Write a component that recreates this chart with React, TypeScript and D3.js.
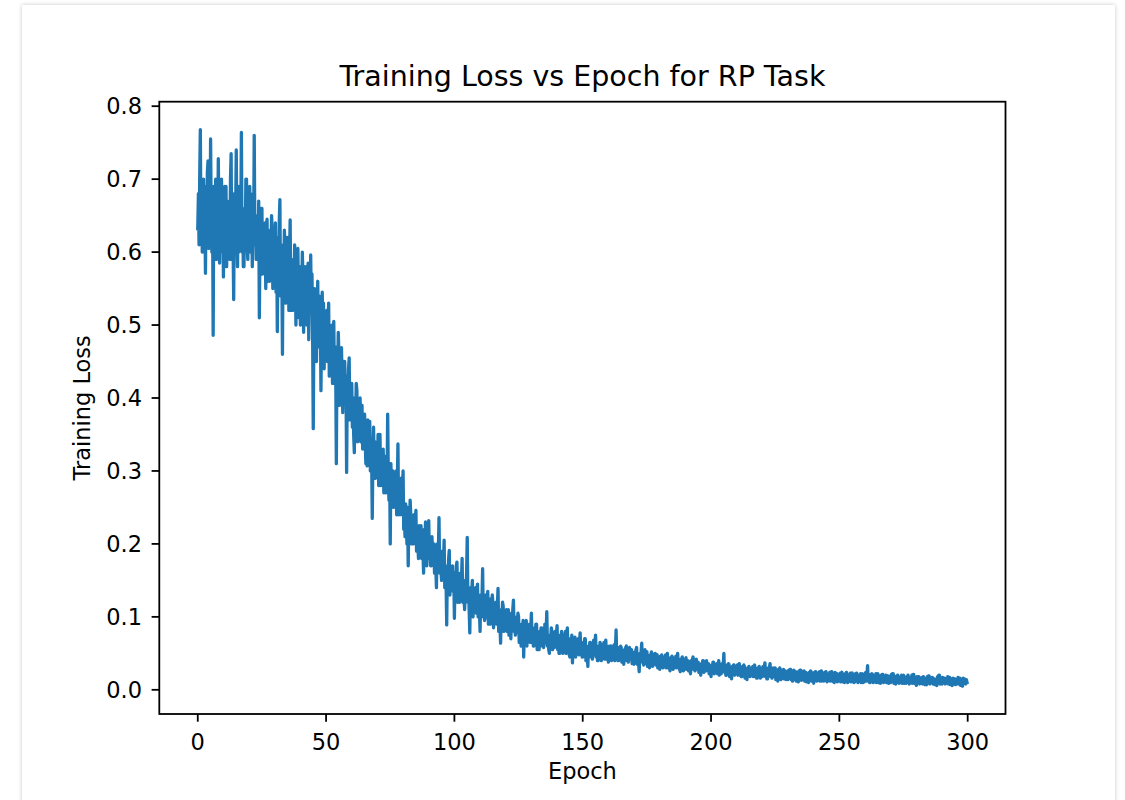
import React from "react";
import * as d3 from "d3";

// Training loss logged four times per epoch (every quarter epoch, 0..299.75)
const lossValues: number[] = [
  0.632, 0.680, 0.610, 0.700, 0.768, 0.620, 0.690, 0.600, 0.640, 0.700, 0.615, 0.665, 0.571, 0.690, 0.630, 0.710, 0.725, 0.605, 0.670, 0.620,
  0.755, 0.640, 0.600, 0.680, 0.486, 0.690, 0.620, 0.660, 0.700, 0.590, 0.650, 0.610, 0.728, 0.640, 0.585, 0.680, 0.610, 0.700, 0.600, 0.660,
  0.566, 0.650, 0.690, 0.600, 0.690, 0.580, 0.660, 0.620, 0.600, 0.670, 0.590, 0.700, 0.735, 0.590, 0.640, 0.610, 0.535, 0.680, 0.600, 0.650,
  0.740, 0.620, 0.580, 0.690, 0.600, 0.690, 0.620, 0.640, 0.764, 0.600, 0.660, 0.580, 0.580, 0.650, 0.610, 0.700, 0.700, 0.610, 0.590, 0.670,
  0.620, 0.690, 0.600, 0.640, 0.655, 0.580, 0.680, 0.610, 0.760, 0.620, 0.650, 0.590, 0.590, 0.650, 0.600, 0.670, 0.510, 0.620, 0.580, 0.660,
  0.660, 0.570, 0.620, 0.590, 0.600, 0.640, 0.550, 0.630, 0.645, 0.560, 0.610, 0.580, 0.560, 0.630, 0.590, 0.650, 0.630, 0.550, 0.600, 0.560,
  0.590, 0.640, 0.545, 0.620, 0.491, 0.600, 0.570, 0.640, 0.672, 0.540, 0.610, 0.580, 0.460, 0.610, 0.560, 0.630, 0.600, 0.530, 0.620, 0.570,
  0.560, 0.620, 0.520, 0.590, 0.644, 0.520, 0.580, 0.540, 0.520, 0.590, 0.550, 0.610, 0.580, 0.500, 0.570, 0.530, 0.605, 0.540, 0.510, 0.580,
  0.500, 0.570, 0.530, 0.600, 0.560, 0.490, 0.580, 0.520, 0.530, 0.580, 0.500, 0.560, 0.585, 0.480, 0.550, 0.520, 0.596, 0.520, 0.570, 0.490,
  0.358, 0.500, 0.550, 0.480, 0.540, 0.450, 0.520, 0.560, 0.470, 0.540, 0.490, 0.520, 0.410, 0.500, 0.545, 0.470, 0.530, 0.440, 0.510, 0.480,
  0.470, 0.520, 0.450, 0.500, 0.530, 0.430, 0.490, 0.460, 0.440, 0.500, 0.420, 0.480, 0.505, 0.420, 0.470, 0.440, 0.310, 0.470, 0.430, 0.490,
  0.460, 0.390, 0.440, 0.410, 0.469, 0.420, 0.380, 0.450, 0.400, 0.450, 0.410, 0.430, 0.298, 0.420, 0.390, 0.440, 0.455, 0.370, 0.420, 0.400,
  0.420, 0.360, 0.400, 0.350, 0.325, 0.400, 0.370, 0.420, 0.410, 0.340, 0.390, 0.360, 0.350, 0.400, 0.340, 0.380, 0.390, 0.330, 0.370, 0.350,
  0.378, 0.340, 0.310, 0.360, 0.307, 0.370, 0.330, 0.350, 0.368, 0.300, 0.340, 0.320, 0.235, 0.330, 0.360, 0.300, 0.340, 0.290, 0.330, 0.310,
  0.300, 0.350, 0.280, 0.320, 0.350, 0.280, 0.310, 0.290, 0.280, 0.330, 0.270, 0.310, 0.320, 0.270, 0.300, 0.280, 0.378, 0.290, 0.260, 0.310,
  0.200, 0.310, 0.270, 0.290, 0.300, 0.250, 0.280, 0.260, 0.260, 0.300, 0.240, 0.280, 0.337, 0.240, 0.270, 0.250, 0.240, 0.290, 0.250, 0.270,
  0.300, 0.220, 0.250, 0.210, 0.255, 0.230, 0.200, 0.250, 0.170, 0.240, 0.220, 0.260, 0.240, 0.200, 0.230, 0.210, 0.200, 0.240, 0.210, 0.230,
  0.246, 0.190, 0.220, 0.200, 0.180, 0.225, 0.195, 0.215, 0.225, 0.180, 0.210, 0.190, 0.160, 0.220, 0.200, 0.230, 0.215, 0.170, 0.200, 0.185,
  0.232, 0.180, 0.200, 0.170, 0.170, 0.210, 0.185, 0.200, 0.200, 0.160, 0.190, 0.170, 0.140, 0.200, 0.175, 0.190, 0.236, 0.160, 0.180, 0.165,
  0.150, 0.190, 0.160, 0.175, 0.205, 0.140, 0.170, 0.150, 0.089, 0.170, 0.150, 0.180, 0.191, 0.130, 0.160, 0.145, 0.140, 0.170, 0.135, 0.160,
  0.098, 0.160, 0.140, 0.170, 0.175, 0.120, 0.150, 0.130, 0.120, 0.160, 0.135, 0.150, 0.180, 0.120, 0.145, 0.125, 0.110, 0.150, 0.130, 0.160,
  0.209, 0.120, 0.140, 0.110, 0.078, 0.140, 0.120, 0.135, 0.150, 0.100, 0.130, 0.115, 0.110, 0.140, 0.105, 0.130, 0.145, 0.100, 0.125, 0.110,
  0.080, 0.130, 0.110, 0.125, 0.166, 0.100, 0.120, 0.095, 0.100, 0.130, 0.105, 0.120, 0.135, 0.090, 0.115, 0.100, 0.090, 0.125, 0.100, 0.130,
  0.120, 0.085, 0.110, 0.095, 0.100, 0.120, 0.090, 0.115, 0.139, 0.080, 0.105, 0.090, 0.064, 0.110, 0.095, 0.120, 0.115, 0.080, 0.100, 0.090,
  0.085, 0.110, 0.080, 0.100, 0.110, 0.075, 0.095, 0.085, 0.070, 0.105, 0.090, 0.110, 0.123, 0.080, 0.095, 0.075, 0.080, 0.100, 0.085, 0.105,
  0.100, 0.065, 0.085, 0.075, 0.060, 0.090, 0.070, 0.095, 0.045, 0.085, 0.075, 0.090, 0.095, 0.060, 0.080, 0.070, 0.070, 0.090, 0.065, 0.085,
  0.105, 0.065, 0.080, 0.060, 0.060, 0.085, 0.070, 0.090, 0.090, 0.055, 0.075, 0.065, 0.055, 0.080, 0.060, 0.085, 0.085, 0.060, 0.075, 0.058,
  0.065, 0.090, 0.070, 0.080, 0.107, 0.060, 0.075, 0.055, 0.050, 0.075, 0.065, 0.085, 0.080, 0.055, 0.070, 0.060, 0.058, 0.080, 0.065, 0.075,
  0.088, 0.055, 0.070, 0.050, 0.050, 0.075, 0.060, 0.080, 0.075, 0.050, 0.065, 0.055, 0.060, 0.080, 0.050, 0.070, 0.085, 0.055, 0.065, 0.048,
  0.045, 0.070, 0.060, 0.075, 0.037, 0.060, 0.050, 0.070, 0.072, 0.045, 0.065, 0.055, 0.050, 0.070, 0.048, 0.065, 0.078, 0.050, 0.060, 0.045,
  0.045, 0.065, 0.055, 0.070, 0.070, 0.040, 0.060, 0.050, 0.032, 0.060, 0.050, 0.065, 0.065, 0.045, 0.058, 0.042, 0.048, 0.068, 0.050, 0.062,
  0.075, 0.045, 0.060, 0.040, 0.040, 0.060, 0.048, 0.065, 0.062, 0.040, 0.055, 0.045, 0.050, 0.065, 0.042, 0.060, 0.068, 0.042, 0.055, 0.048,
  0.038, 0.060, 0.045, 0.058, 0.060, 0.040, 0.052, 0.044, 0.045, 0.062, 0.040, 0.055, 0.082, 0.045, 0.055, 0.040, 0.040, 0.058, 0.048, 0.060,
  0.058, 0.038, 0.050, 0.042, 0.035, 0.055, 0.045, 0.058, 0.060, 0.040, 0.052, 0.038, 0.042, 0.058, 0.044, 0.055, 0.055, 0.036, 0.050, 0.040,
  0.035, 0.052, 0.040, 0.055, 0.058, 0.035, 0.048, 0.038, 0.025, 0.050, 0.040, 0.052, 0.064, 0.038, 0.048, 0.034, 0.040, 0.055, 0.036, 0.050,
  0.052, 0.032, 0.045, 0.038, 0.030, 0.048, 0.040, 0.052, 0.050, 0.032, 0.044, 0.036, 0.036, 0.050, 0.034, 0.046, 0.048, 0.030, 0.042, 0.035,
  0.028, 0.046, 0.035, 0.048, 0.045, 0.030, 0.040, 0.032, 0.035, 0.048, 0.030, 0.044, 0.050, 0.030, 0.040, 0.034, 0.026, 0.044, 0.036, 0.046,
  0.044, 0.028, 0.038, 0.032, 0.032, 0.046, 0.030, 0.042, 0.050, 0.030, 0.040, 0.028, 0.025, 0.042, 0.034, 0.045, 0.042, 0.026, 0.036, 0.030,
  0.030, 0.044, 0.028, 0.040, 0.040, 0.026, 0.036, 0.030, 0.022, 0.040, 0.032, 0.042, 0.045, 0.028, 0.036, 0.026, 0.028, 0.042, 0.030, 0.038,
  0.038, 0.024, 0.034, 0.028, 0.020, 0.036, 0.030, 0.040, 0.040, 0.024, 0.034, 0.026, 0.026, 0.040, 0.028, 0.036, 0.036, 0.022, 0.032, 0.026,
  0.018, 0.034, 0.026, 0.038, 0.038, 0.022, 0.032, 0.024, 0.024, 0.036, 0.022, 0.034, 0.040, 0.020, 0.030, 0.024, 0.022, 0.036, 0.026, 0.034,
  0.050, 0.024, 0.032, 0.020, 0.020, 0.034, 0.026, 0.036, 0.035, 0.018, 0.030, 0.022, 0.015, 0.032, 0.024, 0.034, 0.034, 0.020, 0.030, 0.022,
  0.022, 0.034, 0.020, 0.032, 0.036, 0.020, 0.028, 0.018, 0.018, 0.032, 0.024, 0.034, 0.032, 0.016, 0.028, 0.020, 0.014, 0.030, 0.022, 0.032,
  0.030, 0.018, 0.026, 0.020, 0.020, 0.032, 0.018, 0.030, 0.034, 0.018, 0.026, 0.016, 0.016, 0.030, 0.022, 0.032, 0.030, 0.016, 0.026, 0.018,
  0.018, 0.032, 0.020, 0.030, 0.037, 0.018, 0.026, 0.015, 0.015, 0.030, 0.022, 0.031, 0.036, 0.018, 0.026, 0.016, 0.020, 0.030, 0.018, 0.028,
  0.030, 0.014, 0.024, 0.018, 0.012, 0.028, 0.020, 0.030, 0.028, 0.014, 0.024, 0.016, 0.018, 0.028, 0.015, 0.026, 0.026, 0.014, 0.022, 0.016,
  0.014, 0.027, 0.018, 0.028, 0.028, 0.014, 0.022, 0.012, 0.016, 0.027, 0.014, 0.025, 0.025, 0.012, 0.020, 0.015, 0.011, 0.026, 0.018, 0.027,
  0.027, 0.013, 0.022, 0.015, 0.015, 0.026, 0.012, 0.024, 0.024, 0.011, 0.020, 0.014, 0.010, 0.024, 0.016, 0.026, 0.025, 0.012, 0.020, 0.013,
  0.009, 0.024, 0.016, 0.025, 0.024, 0.012, 0.020, 0.013, 0.014, 0.025, 0.012, 0.022, 0.026, 0.012, 0.020, 0.014, 0.012, 0.024, 0.016, 0.025,
  0.022, 0.011, 0.018, 0.013, 0.015, 0.024, 0.012, 0.022, 0.025, 0.012, 0.019, 0.011, 0.010, 0.024, 0.016, 0.023, 0.022, 0.011, 0.018, 0.013,
  0.013, 0.023, 0.011, 0.021, 0.024, 0.011, 0.018, 0.012, 0.010, 0.022, 0.015, 0.024, 0.021, 0.010, 0.017, 0.012, 0.014, 0.023, 0.011, 0.021,
  0.023, 0.011, 0.018, 0.010, 0.011, 0.022, 0.014, 0.023, 0.020, 0.010, 0.016, 0.012, 0.012, 0.022, 0.010, 0.020, 0.022, 0.010, 0.017, 0.011,
  0.014, 0.024, 0.012, 0.021, 0.033, 0.012, 0.018, 0.010, 0.010, 0.021, 0.014, 0.022, 0.020, 0.010, 0.016, 0.011, 0.013, 0.022, 0.010, 0.020,
  0.022, 0.010, 0.017, 0.012, 0.009, 0.020, 0.014, 0.021, 0.021, 0.010, 0.016, 0.011, 0.012, 0.020, 0.010, 0.019, 0.019, 0.009, 0.015, 0.011,
  0.010, 0.021, 0.013, 0.022, 0.022, 0.009, 0.016, 0.010, 0.008, 0.019, 0.013, 0.020, 0.018, 0.009, 0.015, 0.010, 0.011, 0.020, 0.009, 0.019,
  0.020, 0.009, 0.015, 0.011, 0.009, 0.018, 0.012, 0.020, 0.017, 0.008, 0.014, 0.010, 0.012, 0.020, 0.009, 0.021, 0.021, 0.009, 0.015, 0.010,
  0.006, 0.018, 0.011, 0.018, 0.018, 0.008, 0.014, 0.009, 0.010, 0.017, 0.008, 0.018, 0.016, 0.007, 0.013, 0.009, 0.007, 0.018, 0.011, 0.019,
  0.019, 0.008, 0.014, 0.010, 0.010, 0.017, 0.008, 0.015, 0.015, 0.007, 0.012, 0.009, 0.006, 0.018, 0.010, 0.020, 0.020, 0.008, 0.014, 0.009,
  0.008, 0.017, 0.010, 0.016, 0.016, 0.008, 0.013, 0.009, 0.011, 0.018, 0.008, 0.017, 0.017, 0.007, 0.012, 0.009, 0.006, 0.016, 0.010, 0.015,
  0.015, 0.007, 0.013, 0.008, 0.009, 0.017, 0.008, 0.016, 0.016, 0.006, 0.012, 0.008, 0.005, 0.016, 0.009, 0.015, 0.013, 0.008, 0.014, 0.010,
];
const STEPS_PER_EPOCH = 4;
const epochs: number[] = lossValues.map((_, i) => i / STEPS_PER_EPOCH);

const xTicks: number[] = [0, 50, 100, 150, 200, 250, 300];
const yTicks: number[] = [0.0, 0.1, 0.2, 0.3, 0.4, 0.5, 0.6, 0.7, 0.8];

const titleText = "Training Loss vs Epoch for RP Task";
const xLabelText = "Epoch";
const yLabelText = "Training Loss";

const W = 1125;
const H = 800;
const FONT = "'DejaVu Sans', sans-serif";
const LINE_COLOR = "#1f77b4";

// axes box
const left = 159.3;
const right = 1005.5;
const top = 101.7;
const bottom = 714;

export default function App() {
  const xMin = d3.min(epochs)!;
  const xMax = d3.max(epochs)!;
  const xPad = (xMax - xMin) * 0.05;
  const yMin = d3.min(lossValues)!;
  const yMax = d3.max(lossValues)!;
  const yPad = (yMax - yMin) * 0.05;

  const x = d3.scaleLinear().domain([xMin - xPad, xMax + xPad]).range([left, right]);
  const y = d3.scaleLinear().domain([yMin - yPad, yMax + yPad]).range([bottom, top]);

  const line = d3
    .line<number>()
    .x((_, i) => x(epochs[i]))
    .y((d) => y(d));

  const tickLen = 7.7;
  const fs = 22.5;

  return (
    <div style={{ position: "absolute", left: 0, top: 0, width: W, height: H, background: "#fff" }}>
      <svg width={W} height={H} style={{ display: "block" }}>
        <defs>
          <filter id="cardShadow" x="-5%" y="-5%" width="110%" height="110%">
            <feDropShadow dx="0" dy="0" stdDeviation="2.2" floodColor="#000" floodOpacity="0.22" />
          </filter>
          <clipPath id="plotClip">
            <rect x={left} y={top} width={right - left} height={bottom - top} />
          </clipPath>
        </defs>
        <rect x={0} y={0} width={W} height={H} fill="#fff" />
        <rect x={22} y={5} width={1093} height={830} fill="#fff" filter="url(#cardShadow)" />

        {/* loss curve */}
        <path
          d={line(lossValues) || ""}
          fill="none"
          stroke={LINE_COLOR}
          strokeWidth={3.3}
          strokeLinejoin="round"
          strokeLinecap="square"
          clipPath="url(#plotClip)"
        />

        {/* spines */}
        <rect x={left} y={top} width={right - left} height={bottom - top} fill="none" stroke="#000" strokeWidth={1.8} />

        {/* x ticks */}
        {xTicks.map((t) => (
          <g key={"x" + t}>
            <line x1={x(t)} x2={x(t)} y1={bottom} y2={bottom + tickLen} stroke="#000" strokeWidth={1.8} />
            <text x={x(t)} y={750} textAnchor="middle" fontFamily={FONT} fontSize={fs} fill="#000">
              {t}
            </text>
          </g>
        ))}

        {/* y ticks */}
        {yTicks.map((t) => (
          <g key={"y" + t}>
            <line x1={left - tickLen} x2={left} y1={y(t)} y2={y(t)} stroke="#000" strokeWidth={1.8} />
            <text x={142} y={y(t) + 8.2} textAnchor="end" fontFamily={FONT} fontSize={fs} fill="#000">
              {t.toFixed(1)}
            </text>
          </g>
        ))}

        {/* title and axis labels */}
        <text x={(left + right) / 2} y={86} textAnchor="middle" fontFamily={FONT} fontSize={28.5} fill="#000">
          {titleText}
        </text>
        <text x={(left + right) / 2} y={779} textAnchor="middle" fontFamily={FONT} fontSize={fs} fill="#000">
          {xLabelText}
        </text>
        <text
          transform={`translate(90,${(top + bottom) / 2}) rotate(-90)`}
          textAnchor="middle"
          fontFamily={FONT}
          fontSize={fs}
          fill="#000"
        >
          {yLabelText}
        </text>
      </svg>
    </div>
  );
}
